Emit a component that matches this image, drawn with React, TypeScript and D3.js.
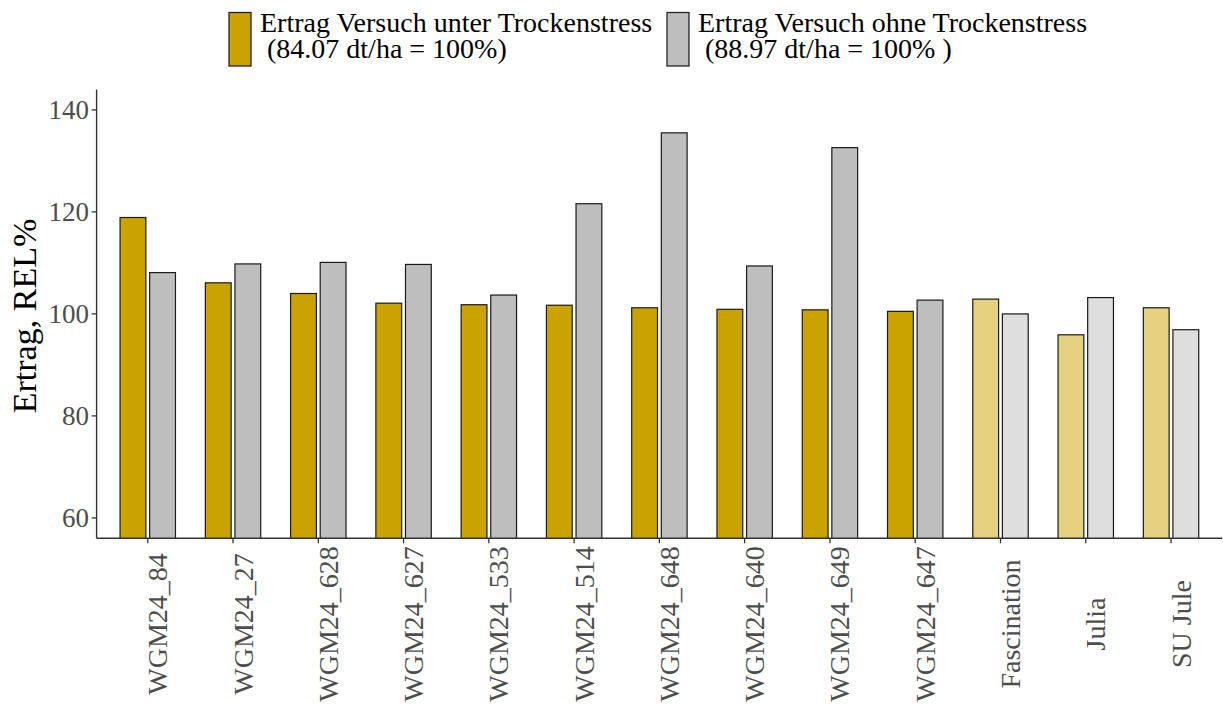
import React from "react";
import * as d3 from "d3";

const categories = [
  "WGM24_84", "WGM24_27", "WGM24_628", "WGM24_627", "WGM24_533", "WGM24_514",
  "WGM24_648", "WGM24_640", "WGM24_649", "WGM24_647", "Fascination", "Julia", "SU Jule",
];
const stressValues = [118.9, 106.1, 104.0, 102.1, 101.8, 101.7, 101.2, 100.9, 100.8, 100.5, 102.9, 95.9, 101.2];
const noStressValues = [108.1, 109.8, 110.1, 109.7, 103.7, 121.6, 135.5, 109.4, 132.6, 102.7, 100.0, 103.2, 96.9];
const checkVarieties = ["Fascination", "Julia", "SU Jule"];
const yTicks = [60, 80, 100, 120, 140];
const legendLines1 = ["Ertrag Versuch unter Trockenstress", " (84.07 dt/ha = 100%)"];
const legendLines2 = ["Ertrag Versuch ohne Trockenstress", " (88.97 dt/ha = 100% )"];

const W = 1223;
const H = 705;
const left = 96.6;
const right = 1222.2;
const top = 89.5;
const bottom = 538.3;
const FONT = "'Liberation Serif', 'Times New Roman', serif";

const GOLD = "#CBA300";
const GOLD_LIGHT = "#E5D180";
const GRAY = "#BEBEBE";
const GRAY_LIGHT = "#DEDEDE";
const AXIS = "#333333";
const TICKTXT = "#4D4D4D";

function LegendText({ x, lines }: { x: number; lines: string[] }) {
  return (
    <text x={x} y={31.7} fontSize={28} fill="#000" style={{ whiteSpace: "pre" }}>
      {lines.map((t, i) => (
        <tspan key={t} x={x} y={31.7 + i * 26.6}>
          {t}
        </tspan>
      ))}
    </text>
  );
}

export default function App() {
  const x = d3.scalePoint<string>().domain(categories).range([left, right]).padding(0.6);
  const y = d3.scaleLinear().domain([56, 144]).range([bottom, top]);
  const barW = 25.8;
  const gap = 1.9;

  return (
    <svg width={W} height={H} style={{ position: "absolute", left: 0, top: 0, background: "#fff" }} fontFamily={FONT}>
      <defs>
        <clipPath id="plotclip">
          <rect x={left} y={top} width={right - left} height={bottom - top} />
        </clipPath>
      </defs>
      {/* Legend */}
      <g>
        <rect x={229} y={12.5} width={22} height={53.5} fill={GOLD} stroke="#222" strokeWidth={1.3} />
        <LegendText x={260} lines={legendLines1} />
        <rect x={667} y={12.5} width={22} height={53.5} fill={GRAY} stroke="#222" strokeWidth={1.3} />
        <LegendText x={698} lines={legendLines2} />
      </g>

      {/* Bars */}
      <g clipPath="url(#plotclip)">
        {categories.map((c, i) => {
          const cx = x(c) as number;
          const isCheck = checkVarieties.includes(c);
          return (
            <g key={c}>
              <rect
                x={cx - gap - barW}
                y={y(stressValues[i])}
                width={barW}
                height={bottom + 5 - y(stressValues[i])}
                fill={isCheck ? GOLD_LIGHT : GOLD}
                stroke="#1a1a1a"
                strokeWidth={1.2}
              />
              <rect
                x={cx + gap}
                y={y(noStressValues[i])}
                width={barW}
                height={bottom + 5 - y(noStressValues[i])}
                fill={isCheck ? GRAY_LIGHT : GRAY}
                stroke="#1a1a1a"
                strokeWidth={1.2}
              />
            </g>
          );
        })}
      </g>

      {/* Axes */}
      <line x1={left} x2={left} y1={top} y2={bottom} stroke={AXIS} strokeWidth={1.4} />
      <line x1={left} x2={right} y1={bottom} y2={bottom} stroke={AXIS} strokeWidth={1.4} />
      {yTicks.map((t) => (
        <g key={t}>
          <line x1={left - 5} x2={left} y1={y(t)} y2={y(t)} stroke={AXIS} strokeWidth={1.3} />
          <text x={left - 7.5} y={y(t)} dy="0.35em" textAnchor="end" fontSize={27} fill={TICKTXT}>
            {t}
          </text>
        </g>
      ))}
      {categories.map((c) => {
        const cx = x(c) as number;
        return (
          <g key={c}>
            <line x1={cx} x2={cx} y1={bottom} y2={bottom + 5} stroke={AXIS} strokeWidth={1.3} />
            <text
              transform={`translate(${cx + 19.5},624) rotate(-90)`}
              textAnchor="middle"
              fontSize={28}
              fill={TICKTXT}
            >
              {c}
            </text>
          </g>
        );
      })}

      {/* Y title */}
      <text transform={`translate(36,316) rotate(-90)`} textAnchor="middle" fontSize={34} fill="#000">
        Ertrag, REL%
      </text>
    </svg>
  );
}
